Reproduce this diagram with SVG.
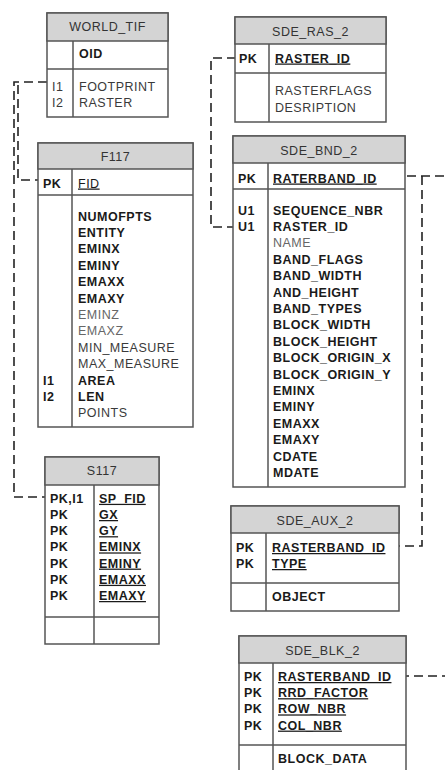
<svg xmlns="http://www.w3.org/2000/svg" width="445" height="770" viewBox="0 0 445 770">
<style>
.box{fill:#fff;stroke:#555;stroke-width:1.5}
.hd{fill:#d4d4d4;stroke:#555;stroke-width:1.5}
.ln{stroke:#555;stroke-width:1.5;fill:none}
text{font-family:"Liberation Sans",Arial,sans-serif;font-size:12.5px;letter-spacing:0.5px;fill:#1a1a1a}
.t{text-anchor:middle;fill:#333}
.b{font-weight:bold}
.r{fill:#3a3a3a}
.g{fill:#666}
.u{text-decoration:underline}
.c{fill:none;stroke:#222;stroke-width:1.6;stroke-dasharray:9 5}
</style>
<rect width="445" height="770" fill="#fff"/>
<g id="connectors">
<path class="c" d="M47,82 H14 V497 H45"/>
<path class="c" d="M18,85 V180 H38"/>
<path class="c" d="M236,58 H211 V227 H233"/>
<path class="c" d="M393,176 H445"/>
<path class="c" d="M422,176 V546 H396"/>
<path class="c" d="M400,676 H445"/>
</g>
<g id="WORLD_TIF">
<rect class="box" x="47" y="13" width="121" height="104"/>
<rect class="hd" x="47" y="13" width="121" height="28"/>
<line class="ln" x1="47" y1="69" x2="168" y2="69"/>
<line class="ln" x1="73" y1="41" x2="73" y2="117"/>
<text class="t" x="107.5" y="31">WORLD_TIF</text>
<text class="b" x="79" y="58">OID</text>
<text class="r" x="52" y="90.5">I1</text>
<text class="r" x="52" y="106.5">I2</text>
<text class="r" x="79" y="90.5">FOOTPRINT</text>
<text class="r" x="79" y="106.5">RASTER</text>
</g>
<g id="SDE_RAS_2">
<rect class="box" x="235" y="17" width="151" height="105"/>
<rect class="hd" x="235" y="17" width="151" height="27"/>
<line class="ln" x1="235" y1="73" x2="386" y2="73"/>
<line class="ln" x1="269" y1="44" x2="269" y2="122"/>
<text class="t" x="310.5" y="35.5">SDE_RAS_2</text>
<text class="b" x="239" y="62.5">PK</text>
<text class="b u" x="275" y="62.5">RASTER_ID</text>
<text class="r" x="275" y="95">RASTERFLAGS</text>
<text class="r" x="275" y="111.5">DESRIPTION</text>
</g>
<g id="F117">
<rect class="box" x="38" y="143" width="155" height="284"/>
<rect class="hd" x="38" y="143" width="155" height="26"/>
<line class="ln" x1="38" y1="195" x2="193" y2="195"/>
<line class="ln" x1="72" y1="169" x2="72" y2="427"/>
<text class="t" x="115.5" y="160.5">F117</text>
<text class="b" x="43" y="187.5">PK</text>
<text class="u" x="78" y="187.5">FID</text>
<text class="b" x="78" y="220.5">NUMOFPTS</text>
<text class="b" x="78" y="236.9">ENTITY</text>
<text class="b" x="78" y="253.3">EMINX</text>
<text class="b" x="78" y="269.7">EMINY</text>
<text class="b" x="78" y="286.1">EMAXX</text>
<text class="b" x="78" y="302.5">EMAXY</text>
<text class="g" x="78" y="318.9">EMINZ</text>
<text class="g" x="78" y="335.3">EMAXZ</text>
<text class="r" x="78" y="351.7">MIN_MEASURE</text>
<text class="r" x="78" y="368.1">MAX_MEASURE</text>
<text class="b" x="43" y="384.5">I1</text>
<text class="b" x="78" y="384.5">AREA</text>
<text class="b" x="43" y="400.9">I2</text>
<text class="b" x="78" y="400.9">LEN</text>
<text class="r" x="78" y="417.3">POINTS</text>
</g>
<g id="S117">
<rect class="box" x="45" y="457" width="114" height="187"/>
<rect class="hd" x="45" y="457" width="114" height="28"/>
<line class="ln" x1="45" y1="617" x2="159" y2="617"/>
<line class="ln" x1="94" y1="485" x2="94" y2="644"/>
<text class="t" x="102" y="475">S117</text>
<text class="b" x="50" y="502.8">PK,I1</text>
<text class="b" x="50" y="519">PK</text>
<text class="b" x="50" y="535.2">PK</text>
<text class="b" x="50" y="551.4">PK</text>
<text class="b" x="50" y="567.6">PK</text>
<text class="b" x="50" y="583.8">PK</text>
<text class="b" x="50" y="600">PK</text>
<text class="b u" x="99" y="502.8">SP_FID</text>
<text class="b u" x="99" y="519">GX</text>
<text class="b u" x="99" y="535.2">GY</text>
<text class="b u" x="99" y="551.4">EMINX</text>
<text class="b u" x="99" y="567.6">EMINY</text>
<text class="b u" x="99" y="583.8">EMAXX</text>
<text class="b u" x="99" y="600">EMAXY</text>
</g>
<g id="SDE_BND_2">
<rect class="box" x="233" y="136" width="172" height="351"/>
<rect class="hd" x="233" y="136" width="172" height="27"/>
<line class="ln" x1="233" y1="189" x2="405" y2="189"/>
<line class="ln" x1="268" y1="163" x2="268" y2="487"/>
<text class="t" x="319" y="154.5">SDE_BND_2</text>
<text class="b" x="238" y="182.5">PK</text>
<text class="b u" x="273" y="182.5">RATERBAND_ID</text>
<text class="b" x="238" y="214.5">U1</text>
<text class="b" x="238" y="230.9">U1</text>
<text class="b" x="273" y="214.5">SEQUENCE_NBR</text>
<text class="b" x="273" y="230.9">RASTER_ID</text>
<text class="g" x="273" y="247.3">NAME</text>
<text class="b" x="273" y="263.7">BAND_FLAGS</text>
<text class="b" x="273" y="280.1">BAND_WIDTH</text>
<text class="b" x="273" y="296.5">AND_HEIGHT</text>
<text class="b" x="273" y="312.9">BAND_TYPES</text>
<text class="b" x="273" y="329.3">BLOCK_WIDTH</text>
<text class="b" x="273" y="345.7">BLOCK_HEIGHT</text>
<text class="b" x="273" y="362.1">BLOCK_ORIGIN_X</text>
<text class="b" x="273" y="378.5">BLOCK_ORIGIN_Y</text>
<text class="b" x="273" y="394.9">EMINX</text>
<text class="b" x="273" y="411.3">EMINY</text>
<text class="b" x="273" y="427.7">EMAXX</text>
<text class="b" x="273" y="444.1">EMAXY</text>
<text class="b" x="273" y="460.5">CDATE</text>
<text class="b" x="273" y="476.9">MDATE</text>
</g>
<g id="SDE_AUX_2">
<rect class="box" x="231" y="506" width="168" height="105"/>
<rect class="hd" x="231" y="506" width="168" height="27"/>
<line class="ln" x1="231" y1="583" x2="399" y2="583"/>
<line class="ln" x1="266" y1="533" x2="266" y2="611"/>
<text class="t" x="315" y="524.5">SDE_AUX_2</text>
<text class="b" x="236" y="552">PK</text>
<text class="b" x="236" y="568">PK</text>
<text class="b u" x="272" y="552">RASTERBAND_ID</text>
<text class="b u" x="272" y="568">TYPE</text>
<text class="b" x="272" y="601">OBJECT</text>
</g>
<g id="SDE_BLK_2">
<rect class="box" x="239" y="636" width="167" height="150"/>
<rect class="hd" x="239" y="636" width="167" height="27"/>
<line class="ln" x1="239" y1="745" x2="406" y2="745"/>
<line class="ln" x1="273" y1="663" x2="273" y2="786"/>
<text class="t" x="322.5" y="654.5">SDE_BLK_2</text>
<text class="b" x="244" y="681">PK</text>
<text class="b" x="244" y="697.2">PK</text>
<text class="b" x="244" y="713.4">PK</text>
<text class="b" x="244" y="729.6">PK</text>
<text class="b u" x="278" y="681">RASTERBAND_ID</text>
<text class="b u" x="278" y="697.2">RRD_FACTOR</text>
<text class="b u" x="278" y="713.4">ROW_NBR</text>
<text class="b u" x="278" y="729.6">COL_NBR</text>
<text class="b" x="278" y="763">BLOCK_DATA</text>
</g>
</svg>
